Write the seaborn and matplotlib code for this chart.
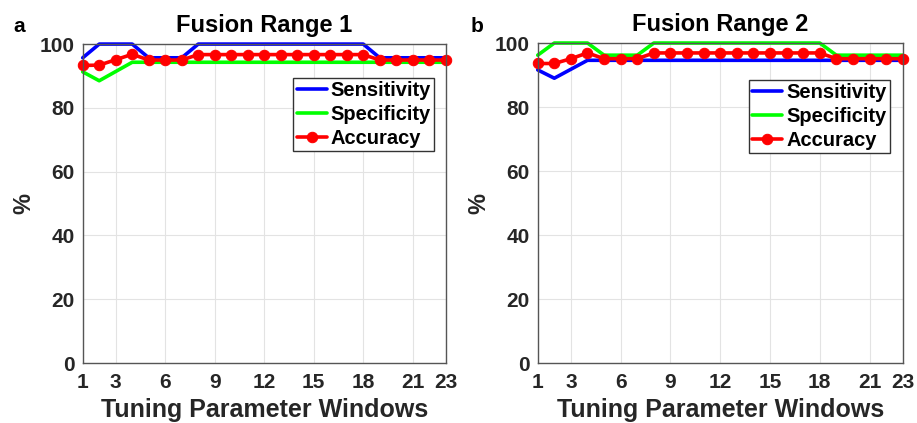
import matplotlib
matplotlib.use("Agg")
import matplotlib.pyplot as plt
import seaborn as sns
import numpy as np

sns.set_theme(style="whitegrid")
plt.rcParams['font.family'] = ['Liberation Sans', 'DejaVu Sans']
plt.rcParams['font.weight'] = 'bold'

windows = list(range(1, 24))
xticks = [1, 3, 6, 9, 12, 15, 18, 21, 23]
yticks = [0, 20, 40, 60, 80, 100]

# Fusion Range 1
sens1 = [95.7, 100, 100, 100, 95.7, 95.7, 95.7, 100, 100, 100, 100, 100, 100, 100, 100, 100, 100, 100,
         95.7, 95.7, 95.7, 95.7, 95.7]
spec1 = [91.3, 88.5, 91.4, 94.3, 94.3, 94.3, 94.3, 94.3, 94.3, 94.3, 94.3, 94.3, 94.3, 94.3, 94.3, 94.3,
         94.3, 94.3, 94.3, 94.3, 94.3, 94.3, 94.3]
acc1 = [93.3, 93.4, 95.1, 96.8, 95.0, 95.0, 95.0, 96.7, 96.7, 96.7, 96.7, 96.7, 96.7, 96.7, 96.7, 96.7,
        96.7, 96.7, 95.0, 95.0, 95.0, 95.0, 95.0]

# Fusion Range 2
sens2 = [91.6, 89.0, 91.8, 94.6, 94.6, 94.6, 94.6, 94.6, 94.6, 94.6, 94.6, 94.6, 94.6, 94.6, 94.6, 94.6,
         94.6, 94.6, 94.6, 94.6, 94.6, 94.6, 94.6]
spec2 = [96.2, 100, 100, 100, 96.2, 96.2, 96.2, 100, 100, 100, 100, 100, 100, 100, 100, 100, 100, 100,
         96.2, 96.2, 96.2, 96.2, 96.2]
acc2 = [93.6, 93.6, 95.1, 96.9, 95.1, 95.1, 95.1, 96.9, 96.9, 96.9, 96.9, 96.9, 96.9, 96.9, 96.9, 96.9,
        96.9, 96.9, 95.1, 95.1, 95.1, 95.1, 95.1]

titles = ["Fusion Range 1", "Fusion Range 2"]

fig = plt.figure(figsize=(9.17, 4.23), dpi=100)
ax1 = fig.add_axes([0.0902, 0.1418, 0.3959, 0.754])
ax2 = fig.add_axes([0.5864, 0.1418, 0.398, 0.7565])

panels = [(ax1, sens1, spec1, acc1, (0.968, 0.893)), (ax2, sens2, spec2, acc2, (0.965, 0.884))]
tick_color = '#262626'
for i, (ax, s, sp, a, anchor) in enumerate(panels):
    sns.lineplot(x=windows, y=s, ax=ax, color='#0000ff', lw=2.6, label='Sensitivity', clip_on=False)
    sns.lineplot(x=windows, y=sp, ax=ax, color='#00ff00', lw=2.6, label='Specificity', clip_on=False)
    sns.lineplot(x=windows, y=a, ax=ax, color='#ff0000', lw=2.6, marker='o', markersize=7.5,
                 markeredgecolor='#ff0000', label='Accuracy', clip_on=False)
    ax.set_xlim(1, 23)
    ax.set_ylim(0, 100)
    ax.set_xticks(xticks)
    ax.set_yticks(yticks)
    ax.tick_params(axis='both', labelsize=15, colors=tick_color, length=3)
    ax.tick_params(axis='x', pad=4)
    ax.tick_params(axis='y', pad=3)
    for lab in ax.get_xticklabels() + ax.get_yticklabels():
        lab.set_fontweight('bold')
    ax.set_xlabel("Tuning Parameter Windows", fontsize=18, fontweight='bold', color=tick_color, labelpad=4.5)
    ax.set_ylabel("%", fontsize=17, fontweight='bold', color=tick_color, labelpad=3)
    ax.set_title(titles[i], fontsize=17, fontweight='bold', color='black', pad=9)
    ax.grid(True, color='#e3e3e3', lw=0.8)
    ax.set_facecolor('white')
    for sp_ in ax.spines.values():
        sp_.set_color('#555555')
        sp_.set_linewidth(1.0)
        sp_.set_visible(True)
    leg = ax.legend(loc='upper right', bbox_to_anchor=anchor, fontsize=14.5, frameon=True,
                    handlelength=1.5, handletextpad=0.2, labelspacing=0.25, borderpad=0.15,
                    borderaxespad=0.0, fancybox=False)
    leg.get_frame().set_edgecolor('#333333')
    leg.get_frame().set_linewidth(1.0)
    leg.get_frame().set_alpha(1.0)
    for t in leg.get_texts():
        t.set_fontweight('bold')
        t.set_color('black')

fig.text(0.015, 0.925, "a", fontsize=15, fontweight='bold', color='black')
fig.text(0.513, 0.925, "b", fontsize=15, fontweight='bold', color='black')

fig.savefig("out.png", dpi=100)
